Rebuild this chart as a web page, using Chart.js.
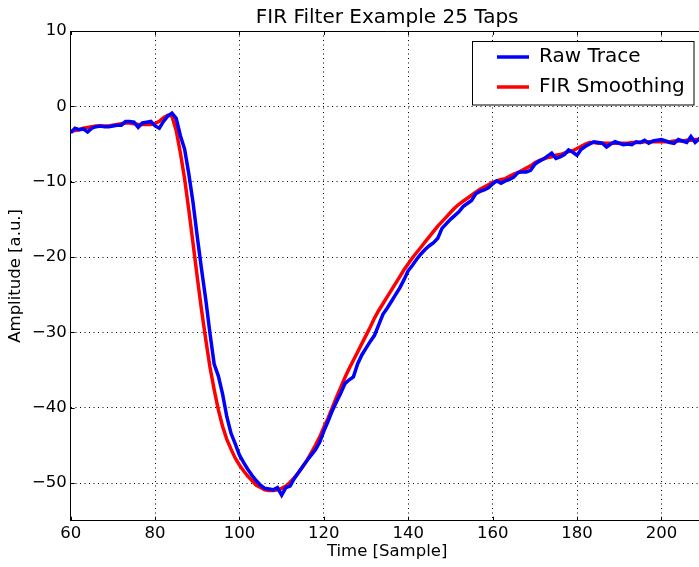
<!DOCTYPE html>
<html>
<head>
<meta charset="utf-8">
<script src="https://cdn.jsdelivr.net/npm/chart.js@4.4.1/dist/chart.umd.min.js"></script>
<style>
  html, body { margin: 0; padding: 0; background: #fff; overflow: hidden; }
  canvas { display: block; }
</style>
</head>
<body>
<canvas id="firChart" width="704" height="567"></canvas>
<script>
// values, one per sample starting at sample 60
const firstSample = 60;
const rawTrace = [
  -3.5, -2.9, -3.1, -3.0, -3.4, -2.9, -2.7, -2.6, -2.7, -2.7,
  -2.6, -2.5, -2.5, -2.0, -2.0, -2.1, -2.8, -2.2, -2.1, -2.0,
  -2.6, -2.9, -2.0, -1.3, -0.9, -1.6, -3.9, -5.7, -9.0, -12.8,
  -17.3, -21.6, -25.6, -30.1, -34.2, -35.8, -38.2, -41.2, -43.4, -44.8,
  -46.3, -47.3, -48.2, -49.0, -49.7, -50.3, -50.7, -50.8, -50.9, -50.6,
  -51.6, -50.6, -50.4, -49.4, -48.6, -47.8, -47.0, -46.3, -45.6, -44.6,
  -43.1, -41.8, -40.4, -39.2, -38.1, -36.8, -36.3, -35.9, -34.2, -33.0,
  -32.1, -31.2, -30.4, -29.0, -27.6, -26.8, -25.9, -25.0, -24.1, -23.0,
  -21.8, -21.1, -20.3, -19.6, -19.0, -18.5, -18.1, -17.5, -16.2, -15.6,
  -15.0, -14.5, -14.0, -13.3, -12.9, -12.5, -11.6, -11.3, -11.1, -10.8,
  -10.3, -9.9, -10.2, -9.9, -9.7, -9.4, -8.8, -8.7, -8.7, -8.5,
  -7.7, -7.3, -7.0, -6.6, -6.2, -6.9, -6.7, -6.4, -5.8, -6.1,
  -6.5, -5.7, -5.3, -5.0, -4.7, -4.8, -4.9, -5.4, -5.0, -4.7,
  -4.9, -5.1, -5.0, -5.1, -4.7, -4.8, -4.5, -4.9, -4.6, -4.5,
  -4.4, -4.6, -4.8, -4.9, -4.4, -4.6, -4.8, -4.0, -4.8, -4.3,
  -4.6
];
const firSmoothing = [
  -3.3, -3.2, -3.1, -2.9, -2.8, -2.7, -2.6, -2.6, -2.6, -2.6,
  -2.5, -2.4, -2.3, -2.2, -2.2, -2.3, -2.4, -2.4, -2.4, -2.4,
  -2.3, -2.0, -1.5, -1.2, -1.3, -3.2, -6.2, -9.6, -13.8, -18.2,
  -22.7, -27.0, -30.9, -34.6, -37.6, -40.3, -42.5, -44.2, -45.5, -46.7,
  -47.6, -48.4, -49.1, -49.7, -50.3, -50.6, -50.9, -51.0, -51.0, -50.9,
  -50.7, -50.4, -49.9, -49.3, -48.6, -47.8, -47.0, -46.0, -45.0, -43.9,
  -42.6, -41.4, -40.0, -38.6, -37.3, -36.0, -34.8, -33.7, -32.6, -31.5,
  -30.4, -29.3, -28.1, -27.1, -26.2, -25.3, -24.4, -23.5, -22.6, -21.7,
  -20.9, -20.1, -19.4, -18.7, -18.0, -17.3, -16.6, -15.9, -15.3, -14.7,
  -14.1, -13.5, -13.0, -12.6, -12.2, -11.8, -11.4, -11.0, -10.7, -10.4,
  -10.1, -9.9, -9.7, -9.6, -9.3, -9.0, -8.8, -8.5, -8.2, -7.9,
  -7.5, -7.2, -7.0, -6.8, -6.7, -6.5, -6.4, -6.2, -6.0, -5.9,
  -5.6, -5.3, -5.0, -4.8, -4.8, -4.9, -4.9, -4.9, -4.9, -4.9,
  -4.9, -4.9, -4.9, -4.8, -4.8, -4.8, -4.7, -4.7, -4.7, -4.7,
  -4.7, -4.7, -4.7, -4.6, -4.6, -4.6, -4.5, -4.5, -4.4, -4.4,
  -4.4
];
const xTicks = [60, 80, 100, 120, 140, 160, 180, 200];
const yTicks = [10, 0, -10, -20, -30, -40, -50];
const seriesNames = ['Raw Trace', 'FIR Smoothing'];

const samples = rawTrace.map((v, i) => firstSample + i);
const toPoints = arr => arr.map((v, i) => ({ x: samples[i], y: v }));

Chart.defaults.font.family = "'DejaVu Sans', sans-serif";
Chart.defaults.color = '#000';

const minus = v => (v < 0 ? '\u2212' + Math.abs(v) : String(v));

// matplotlib-like frame: white legend box, top border, inward ticks
const framePlugin = {
  id: 'frame',
  beforeDraw(chart) {
    const legend = chart.legend;
    if (legend && !legend._boxed) {
      const orig = legend.draw.bind(legend);
      legend.draw = function () {
        const c = chart.ctx;
        c.save();
        c.fillStyle = '#fff';
        c.strokeStyle = '#000';
        c.lineWidth = 1;
        c.fillRect(472.5, 41.5, 221.5, 63.5);
        c.strokeRect(472.5, 41.5, 221.5, 63.5);
        c.restore();
        orig();
      };
      legend._boxed = true;
    }
  },
  afterLayout(chart) {
    chart.legend.left = 487;
    chart.legend.top = 37;
  },
  afterDraw(chart) {
    const c = chart.ctx;
    const { left, right, top, bottom } = chart.chartArea;
    const xs = chart.scales.x, ys = chart.scales.y;
    c.save();
    c.strokeStyle = '#000';
    c.lineWidth = 1;
    c.beginPath();
    c.moveTo(left, Math.round(top) + 0.5);
    c.lineTo(right, Math.round(top) + 0.5);
    xTicks.forEach(v => {
      const px = Math.round(xs.getPixelForValue(v)) + 0.5;
      c.moveTo(px, bottom); c.lineTo(px, bottom - 4);
      c.moveTo(px, top); c.lineTo(px, top + 4);
    });
    yTicks.forEach(v => {
      const py = Math.round(ys.getPixelForValue(v)) + 0.5;
      c.moveTo(left, py); c.lineTo(left + 4, py);
    });
    c.stroke();
    c.restore();
  }
};

new Chart(document.getElementById('firChart'), {
  type: 'line',
  data: {
    datasets: [
      {
        label: seriesNames[0],
        data: toPoints(rawTrace),
        borderColor: '#0000ff',
        backgroundColor: '#0000ff',
        borderWidth: 3.5,
        pointRadius: 0,
        tension: 0
      },
      {
        label: seriesNames[1],
        data: toPoints(firSmoothing),
        borderColor: '#ff0000',
        backgroundColor: '#ff0000',
        borderWidth: 3.5,
        pointRadius: 0,
        tension: 0
      }
    ]
  },
  options: {
    responsive: false,
    animation: false,
    devicePixelRatio: 1,
    layout: { padding: { left: 0, right: 0.4, top: 0, bottom: 0 } },
    plugins: {
      title: {
        display: true,
        text: 'FIR Filter Example 25 Taps',
        fullSize: false,
        font: { size: 20, weight: 'normal' },
        color: '#000',
        padding: { top: 6, bottom: 1 }
      },
      legend: {
        position: 'chartArea',
        align: 'start',
        labels: {
          usePointStyle: true,
          pointStyle: 'line',
          pointStyleWidth: 32,
          padding: 10,
          font: { size: 20 },
          color: '#000'
        }
      },
      tooltip: { enabled: false }
    },
    scales: {
      x: {
        type: 'linear',
        min: 60,
        max: 210,
        afterBuildTicks: s => { s.ticks = xTicks.map(v => ({ value: v })); },
        afterFit: s => { s.height = 46.3; },
        ticks: { font: { size: 16.5 }, padding: 3.5, maxRotation: 0, callback: minus },
        grid: { color: '#000', lineWidth: 1, drawTicks: false, z: -1 },
        border: { display: true, color: '#000', width: 1, dash: [1, 3.5] },
        title: { display: true, text: 'Time [Sample]', font: { size: 16.5 }, padding: { top: 0, bottom: 5 } }
      },
      y: {
        min: -55,
        max: 10,
        afterBuildTicks: s => { s.ticks = yTicks.map(v => ({ value: v })); },
        afterFit: s => { s.width = 70.7; },
        ticks: { font: { size: 16.5 }, padding: 4, callback: minus },
        grid: { color: '#000', lineWidth: 1, drawTicks: false, z: -1 },
        border: { display: true, color: '#000', width: 1, dash: [1, 3.5] },
        title: { display: true, text: 'Amplitude [a.u.]', font: { size: 16.5 }, padding: { top: 5.5, bottom: 0 } }
      }
    }
  },
  plugins: [framePlugin]
});
</script>
</body>
</html>
